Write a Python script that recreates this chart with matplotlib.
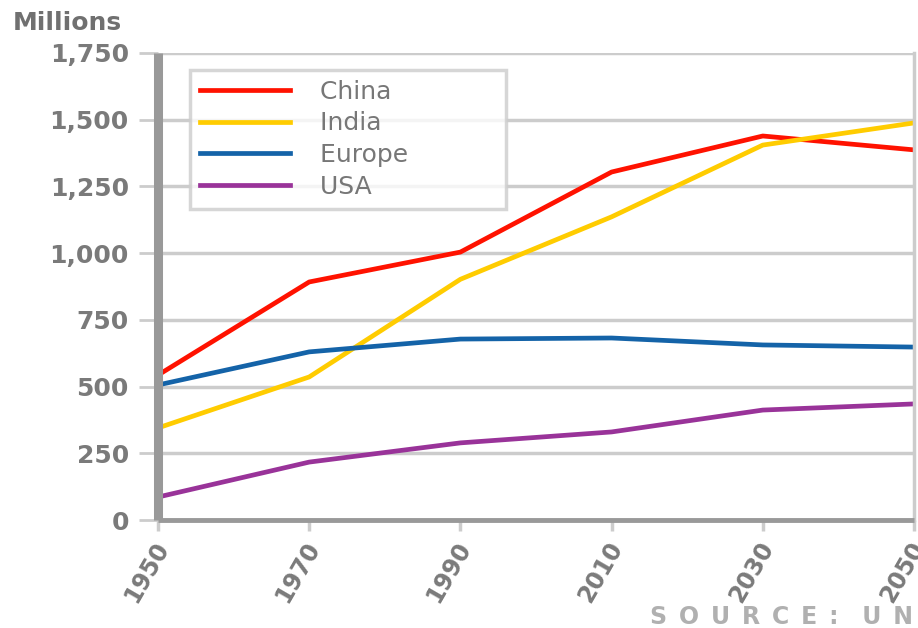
import matplotlib.pyplot as plt
import matplotlib.transforms as mtransforms

# Population projections, millions
years = [1950, 1970, 1990, 2010, 2030, 2050]
china = [543, 892, 1004, 1304, 1439, 1387]
india = [345, 536, 902, 1136, 1405, 1488]
europe = [506, 630, 678, 682, 656, 648]
usa = [86, 217, 289, 330, 412, 435]

series = [("China", china, "#ff1200"),
          ("India", india, "#ffcc00"),
          ("Europe", europe, "#1463a8"),
          ("USA", usa, "#993399")]

plt.rcParams['font.family'] = ['DejaVu Sans']

fig = plt.figure(figsize=(9.18, 6.28), dpi=100)
ax = fig.add_axes([158 / 918, 108 / 628, (914 - 158) / 918, (520 - 53) / 628])

for name, vals, col in series:
    ax.plot(years, vals, color=col, lw=3.4, label=name, zorder=3,
            solid_joinstyle='round')

ax.set_xlim(1950, 2050)
ax.set_ylim(0, 1750)
ax.set_yticks(range(0, 1751, 250))
ax.set_yticklabels([f"{v:,}" for v in range(0, 1751, 250)])
ax.set_xticks(years)
ax.set_xticklabels([str(y) for y in years])

ax.grid(axis='y', color='#cccccc', lw=2.5, zorder=1)
ax.set_axisbelow(True)

ax.spines['top'].set_visible(False)
ax.spines['left'].set_color('#999999')
ax.spines['left'].set_linewidth(6.5)
ax.spines['left'].set_capstyle('butt')
ax.spines['bottom'].set_color('#999999')
ax.spines['bottom'].set_linewidth(3.5)
ax.spines['bottom'].set_capstyle('butt')
ax.spines['right'].set_color('#cccccc')
ax.spines['right'].set_linewidth(2.5)
for s in ax.spines.values():
    s.set_zorder(4)

ax.tick_params(axis='y', length=14, width=2, color='#cccccc', pad=7,
               labelsize=18, labelcolor='#7a7a7a')
ax.tick_params(axis='x', length=8, width=2.5, color='#cccccc', pad=6,
               labelsize=17, labelcolor='#7a7a7a')
for lab in ax.get_yticklabels():
    lab.set_fontweight('bold')
offset = mtransforms.ScaledTranslation(5 / 100, -4 / 100, fig.dpi_scale_trans)
for lab in ax.get_xticklabels():
    lab.set_fontweight('bold')
    lab.set_rotation(60)
    lab.set_rotation_mode('anchor')
    lab.set_ha('right')
    lab.set_va('center')
    lab.set_transform(lab.get_transform() + offset)

leg = ax.legend(loc='upper left', bbox_to_anchor=(32 / 756, (467 - 17) / 467),
                frameon=True, fancybox=False, fontsize=18, handlelength=3.6,
                handletextpad=1.2, labelspacing=0.3, borderpad=0.4,
                borderaxespad=0)
leg.get_frame().set_edgecolor('#cccccc')
leg.get_frame().set_linewidth(2.5)
for t in leg.get_texts():
    t.set_color('#777777')
    t.set_text(t.get_text() + "           ")

fig.text(13 / 918, 1 - 23 / 628, "Millions", fontsize=18, fontweight='bold',
         color='#707070', va='center', ha='left')
fig.text(650 / 918, 1 - 617 / 628,
         "S\u2002O\u2002U\u2002R\u2002C\u2002E\u2002:\u2002\u2002U\u2002N",
         fontsize=17, fontweight='bold', color='#b0b0b0', va='center', ha='left')

fig.savefig('out.png', dpi=100)
